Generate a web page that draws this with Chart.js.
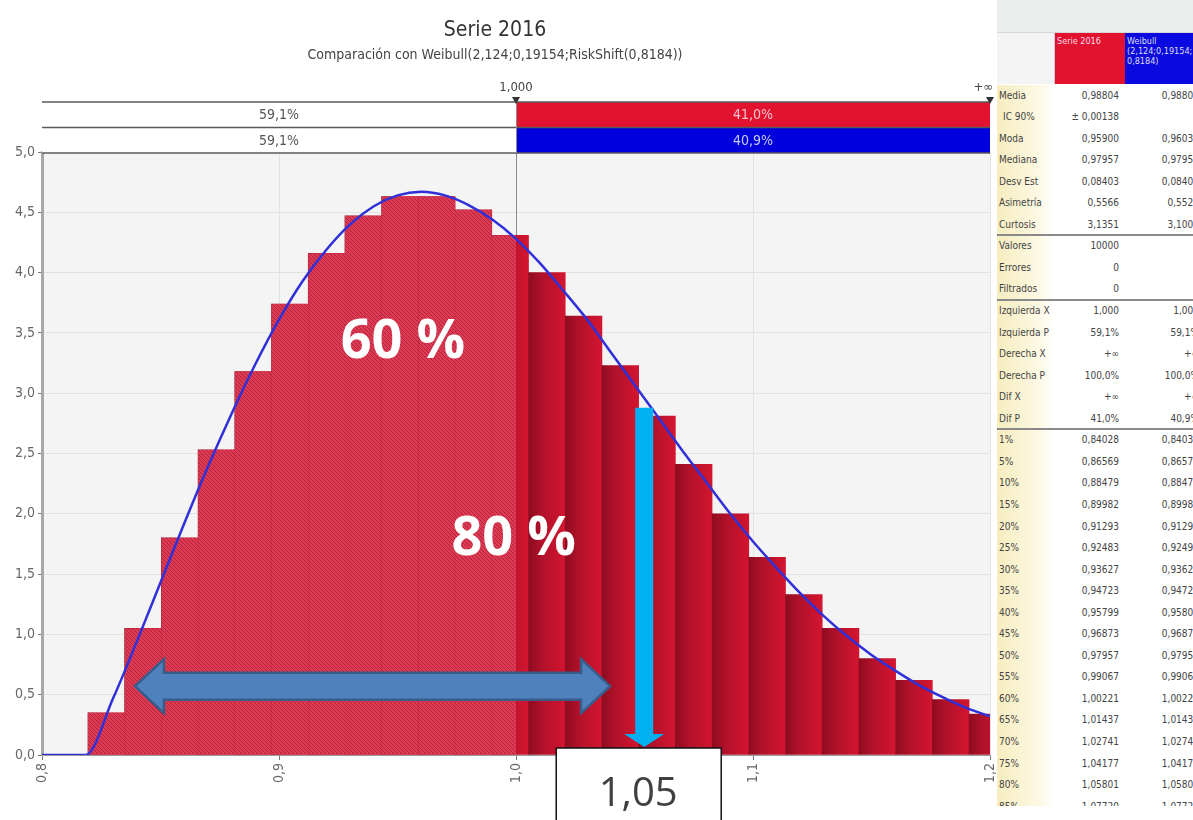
<!DOCTYPE html>
<html>
<head>
<meta charset="utf-8">
<script src="https://cdn.jsdelivr.net/npm/chart.js@4.4.0/dist/chart.umd.min.js"></script>
<style>
  body { margin: 0; background: #fff; width: 1193px; height: 820px; overflow: hidden; position: relative; }
  #wrap { position: absolute; left: 0; top: 0; width: 1032px; height: 820px; }
  #stats { position: absolute; left: 997px; top: 0; width: 196px; height: 806px; overflow: hidden; background: #fff;
           font-family: "Liberation Sans Narrow", "DejaVu Sans Condensed", "Liberation Sans", sans-serif; font-size: 10px; color: #444; }
  #stats .band { position: absolute; left: 0; top: 0; width: 196px; height: 32px; background: #eceeee; border-bottom: 1px solid #d6d6d6; }
  #stats .hcell { position: absolute; top: 33px; height: 51px; box-sizing: border-box; padding: 3px 2px; line-height: 10px; font-size: 9px; }
  #stats .lab { position: absolute; left: 0; width: 58px; height: 100%; background: linear-gradient(to right, #f6edc0, #fdf8e2 70%, #fff); }
  #stats .row { position: absolute; left: 0; width: 200px; height: 22px; line-height: 22px; white-space: nowrap; }
  #stats .row span { position: absolute; top: 0; }
  #stats .sep { position: absolute; left: 0; width: 200px; height: 0; border-top: 2px solid #8a8a8a; }
</style>
</head>
<body>
<div id="wrap"><canvas id="chart" width="1032" height="820"></canvas></div>
<div id="stats"></div>
<script>
// ---- histogram (Serie 2016) ----
const binLeft = [0.81940, 0.83489, 0.85038, 0.86587, 0.88136, 0.89685, 0.91234, 0.92783, 0.94332, 0.95881,
                 0.97430, 0.98979, 1.00528, 1.02077, 1.03626, 1.05175, 1.06724, 1.08273, 1.09822, 1.11371,
                 1.12920, 1.14469, 1.16018, 1.17567, 1.19116];
const binWidth = 0.01549;
const density = [0.35, 1.05, 1.80, 2.53, 3.18, 3.74, 4.16, 4.47, 4.63, 4.63,
                 4.52, 4.31, 4.00, 3.64, 3.23, 2.81, 2.41, 2.00, 1.64, 1.33,
                 1.05, 0.80, 0.62, 0.46, 0.34];

// ---- Weibull fit ----
const fitX = [0.80, 0.8184, 0.83, 0.84, 0.85, 0.86, 0.87, 0.88, 0.89, 0.90, 0.91, 0.92, 0.93, 0.94, 0.95, 0.96,
              0.97, 0.98, 0.99, 1.00, 1.01, 1.02, 1.03, 1.04, 1.05, 1.06, 1.07, 1.08, 1.09, 1.10, 1.11, 1.12,
              1.13, 1.14, 1.15, 1.16, 1.17, 1.18, 1.19, 1.20];
const fitY = [0, 0, 0.47, 0.94, 1.43, 1.92, 2.39, 2.83, 3.24, 3.61, 3.93, 4.19, 4.40, 4.55, 4.64, 4.67,
              4.64, 4.56, 4.44, 4.28, 4.08, 3.85, 3.61, 3.34, 3.07, 2.80, 2.53, 2.27, 2.01, 1.77, 1.55, 1.34,
              1.15, 0.98, 0.83, 0.70, 0.58, 0.48, 0.39, 0.32];

// ---- delimiters ----
const delimX = 1.0;
const leftProbs = ["59,1%", "59,1%"];
const rightProbs = ["41,0%", "40,9%"];
const rightColors = ["#e3122f", "#0000dc"];
const rightTextColors = ["#f6c4cd", "#c9c9ff"];

// ---- overlay notes ----
const noteTexts = [{ text: "60 %", x: 0.9523, y: 3.42 }, { text: "80 %", x: 0.999, y: 1.79 }];
const spanArrow = { from: 0.8392, to: 1.0397, y: 0.571 };
const cutArrow = { x: 1.0541, top: 2.88 };
const cutLabel = "1,05";

// ---- statistics table ----
const statLabels = ["Media", "IC 90%", "Moda", "Mediana", "Desv Est", "Asimetría", "Curtosis",
  "Valores", "Errores", "Filtrados",
  "Izquierda X", "Izquierda P", "Derecha X", "Derecha P", "Dif X", "Dif P",
  "1%", "5%", "10%", "15%", "20%", "25%", "30%", "35%", "40%", "45%", "50%", "55%", "60%", "65%", "70%", "75%", "80%", "85%"];
const serieStats = ["0,98804", "± 0,00138", "0,95900", "0,97957", "0,08403", "0,5566", "3,1351",
  "10000", "0", "0",
  "1,000", "59,1%", "+∞", "100,0%", "+∞", "41,0%",
  "0,84028", "0,86569", "0,88479", "0,89982", "0,91293", "0,92483", "0,93627", "0,94723", "0,95799", "0,96873",
  "0,97957", "0,99067", "1,00221", "1,01437", "1,02741", "1,04177", "1,05801", "1,07720"];
const weibullStats = ["0,98804", "", "0,96035", "0,97958", "0,08400", "0,5527", "3,1005",
  "", "", "",
  "1,000", "59,1%", "+∞", "100,0%", "+∞", "40,9%",
  "0,84036", "0,86571", "0,88479", "0,89982", "0,91293", "0,92494", "0,93629", "0,94724", "0,95801", "0,96874",
  "0,97958", "0,99069", "1,00222", "1,01438", "1,02743", "1,04178", "1,05804", "1,07720"];
const groupEnds = [6, 9, 15];

const NARROW = '"Liberation Sans Narrow", "DejaVu Sans Condensed", "Liberation Sans", sans-serif';
const fmt = (v) => v.toFixed(1).replace(".", ",");

// hatch for the part left of the delimiter
function makeHatch(ctx) {
  const c = document.createElement("canvas");
  c.width = 4; c.height = 4;
  const g = c.getContext("2d");
  g.fillStyle = "#de3a54";
  g.fillRect(0, 0, 4, 4);
  g.strokeStyle = "#ab2239";
  g.lineWidth = 0.9;
  g.beginPath();
  g.moveTo(-1, -1); g.lineTo(5, 5);
  g.moveTo(-1, 3); g.lineTo(1, 5);
  g.moveTo(3, -1); g.lineTo(5, 1);
  g.stroke();
  return ctx.createPattern(c, "repeat");
}

const plotBg = {
  id: "plotBg",
  beforeDraw(chart) {
    const { ctx, chartArea: a } = chart;
    ctx.save();
    ctx.fillStyle = "#f4f4f4";
    ctx.fillRect(a.left, a.top, a.right - a.left, a.bottom - a.top);
    ctx.restore();
  },
  beforeDatasetsDraw(chart) {
    const { ctx, chartArea: a } = chart;
    const xd = chart.scales.x.getPixelForValue(delimX);
    ctx.save();
    ctx.strokeStyle = "#8c8c8c";
    ctx.lineWidth = 1;
    ctx.beginPath();
    ctx.moveTo(xd + 0.5, a.top); ctx.lineTo(xd + 0.5, a.bottom);
    ctx.stroke();
    ctx.restore();
  }
};

let hatch = null;
const hatchLeft = {
  id: "hatchLeft",
  afterDatasetDraw(chart, args) {
    if (args.meta.type !== "bar") return;
    const { ctx, chartArea: a } = chart;
    const xd = chart.scales.x.getPixelForValue(delimX);
    if (!hatch) hatch = makeHatch(ctx);
    ctx.save();
    ctx.beginPath();
    ctx.rect(a.left, a.top, xd - a.left, a.bottom - a.top);
    ctx.clip();
    ctx.fillStyle = hatch;
    args.meta.data.forEach((el) => {
      const p = el.getProps(["x", "y", "base", "width"], true);
      ctx.fillRect(p.x - p.width / 2, p.y, p.width, p.base - p.y);
    });
    ctx.restore();
  }
};

const delimiterBars = {
  id: "delimiterBars",
  afterDraw(chart) {
    const { ctx, chartArea: a } = chart;
    const xd = chart.scales.x.getPixelForValue(delimX);
    const top = 102, h = 25.5;
    ctx.save();
    ctx.font = "14px " + NARROW;
    ctx.textAlign = "center";
    ctx.textBaseline = "middle";
    for (let r = 0; r < 2; r++) {
      const y = top + r * h;
      ctx.fillStyle = "#ffffff";
      ctx.fillRect(a.left, y, xd - a.left, h);
      ctx.fillStyle = rightColors[r];
      ctx.fillRect(xd, y, a.right - xd, h);
      ctx.fillStyle = "#555";
      ctx.fillText(leftProbs[r], (a.left + xd) / 2, y + h / 2 + 1);
      ctx.fillStyle = rightTextColors[r];
      ctx.fillText(rightProbs[r], (xd + a.right) / 2, y + h / 2 + 1);
    }
    ctx.strokeStyle = "#5a5a5a";
    ctx.lineWidth = 1.5;
    [top, top + h, top + 2 * h].forEach((y) => {
      ctx.beginPath(); ctx.moveTo(a.left, y); ctx.lineTo(a.right, y); ctx.stroke();
    });
    ctx.lineWidth = 1;
    ctx.strokeStyle = "#8c8c8c";
    ctx.beginPath(); ctx.moveTo(xd + 0.5, top); ctx.lineTo(xd + 0.5, top + 2 * h); ctx.stroke();
    // markers
    ctx.fillStyle = "#333";
    [xd, a.right].forEach((x) => {
      ctx.beginPath();
      ctx.moveTo(x - 4, top - 5); ctx.lineTo(x + 4, top - 5); ctx.lineTo(x, top + 2);
      ctx.closePath(); ctx.fill();
    });
    ctx.font = "13px " + NARROW;
    ctx.fillStyle = "#444";
    ctx.fillText("1,000", xd, 88);
    ctx.textAlign = "right";
    ctx.fillText("+∞", a.right + 3, 88);
    ctx.restore();
  }
};

const notes = {
  id: "notes",
  afterDraw(chart) {
    const { ctx } = chart;
    const xs = chart.scales.x, ys = chart.scales.y;
    ctx.save();
    // white percentages
    ctx.font = 'bold 54px "Open Sans", "DejaVu Sans", sans-serif';
    ctx.fillStyle = "#ffffff";
    ctx.textAlign = "center";
    ctx.textBaseline = "middle";
    noteTexts.forEach((n) => ctx.fillText(n.text, xs.getPixelForValue(n.x), ys.getPixelForValue(n.y)));

    // double arrow
    const x0 = xs.getPixelForValue(spanArrow.from), x1 = xs.getPixelForValue(spanArrow.to);
    const yc = ys.getPixelForValue(spanArrow.y);
    const sh = 13.5, hh = 27, hl = 29;
    ctx.beginPath();
    ctx.moveTo(x0, yc);
    ctx.lineTo(x0 + hl, yc - hh); ctx.lineTo(x0 + hl, yc - sh);
    ctx.lineTo(x1 - hl, yc - sh); ctx.lineTo(x1 - hl, yc - hh);
    ctx.lineTo(x1, yc);
    ctx.lineTo(x1 - hl, yc + hh); ctx.lineTo(x1 - hl, yc + sh);
    ctx.lineTo(x0 + hl, yc + sh); ctx.lineTo(x0 + hl, yc + hh);
    ctx.closePath();
    ctx.fillStyle = "#4f81bd";
    ctx.fill();
    ctx.strokeStyle = "#385d8a";
    ctx.lineWidth = 2.5;
    ctx.stroke();

    // cyan arrow down to the axis
    const cx = xs.getPixelForValue(cutArrow.x);
    const ct = ys.getPixelForValue(cutArrow.top);
    const cb = ys.getPixelForValue(0) - 8;
    ctx.beginPath();
    ctx.moveTo(cx - 9, ct); ctx.lineTo(cx + 9, ct);
    ctx.lineTo(cx + 9, cb - 13); ctx.lineTo(cx + 20, cb - 13);
    ctx.lineTo(cx, cb); ctx.lineTo(cx - 20, cb - 13);
    ctx.lineTo(cx - 9, cb - 13);
    ctx.closePath();
    ctx.fillStyle = "#00b0f0";
    ctx.fill();

    // value box
    const bx = cx - 88, by = ys.getPixelForValue(0) - 7;
    ctx.fillStyle = "#ffffff";
    ctx.fillRect(bx, by, 165, 90);
    ctx.strokeStyle = "#111";
    ctx.lineWidth = 1.5;
    ctx.strokeRect(bx, by, 165, 90);
    ctx.font = '40px "Open Sans", "DejaVu Sans", sans-serif';
    ctx.fillStyle = "#404040";
    ctx.fillText(cutLabel, bx + 82, by + 47);
    ctx.restore();
  }
};

const ctx = document.getElementById("chart");
new Chart(ctx, {
  data: {
    datasets: [
      {
        type: "line",
        data: fitX.map((x, i) => ({ x: x, y: fitY[i] })),
        borderColor: "#3030d8",
        borderWidth: 2.5,
        pointRadius: 0,
        cubicInterpolationMode: "monotone",
        order: 0,
      },
      {
        type: "bar",
        data: binLeft.map((l, i) => ({ x: l + binWidth / 2, y: density[i] })),
        barPercentage: 1,
        categoryPercentage: 1,
        grouped: false,
        borderWidth: 0,
        order: 1,
        backgroundColor: (c) => {
          const chart = c.chart;
          if (!chart.chartArea || c.dataIndex === undefined) return "#c0102c";
          const xs = chart.scales.x;
          const l = xs.getPixelForValue(binLeft[c.dataIndex]);
          const r = xs.getPixelForValue(binLeft[c.dataIndex] + binWidth);
          const g = chart.ctx.createLinearGradient(l, 0, r, 0);
          g.addColorStop(0, "#8e0c20");
          g.addColorStop(0.35, "#b0112a");
          g.addColorStop(1, "#d41530");
          return g;
        },
      },
    ],
  },
  options: {
    responsive: false,
    animation: false,
    devicePixelRatio: 1,
    layout: { padding: { left: 0, right: 42, top: 0, bottom: 0 } },
    plugins: {
      legend: { display: false },
      tooltip: { enabled: false },
      title: {
        display: true,
        text: "Serie 2016",
        color: "#333",
        font: { family: NARROW, size: 21, weight: "normal" },
        padding: { top: 18, bottom: 4 },
      },
      subtitle: {
        display: true,
        text: "Comparación con Weibull(2,124;0,19154;RiskShift(0,8184))",
        color: "#444",
        font: { family: NARROW, size: 14 },
        padding: { top: 0, bottom: 88 },
      },
    },
    scales: {
      x: {
        type: "linear",
        min: 0.8,
        max: 1.2,
        offset: false,
        afterFit: (s) => { s.height = 65; },
        ticks: {
          stepSize: 0.1,
          autoSkip: false,
          maxRotation: 90,
          minRotation: 90,
          color: "#666",
          font: { family: NARROW, size: 14 },
          callback: (v) => fmt(v),
        },
        grid: { offset: false, color: "#e2e2e2", tickColor: "#777", tickLength: 5 },
        border: { color: "#9a9a9a" },
      },
      y: {
        min: 0,
        max: 5,
        afterFit: (s) => { s.width = 42; },
        ticks: {
          stepSize: 0.5,
          color: "#666",
          font: { family: NARROW, size: 14 },
          callback: (v) => fmt(v),
        },
        grid: { color: "#e2e2e2", tickColor: "#777", tickLength: 4 },
        border: { color: "#a8a8a8", width: 3 },
      },
    },
  },
  plugins: [plotBg, hatchLeft, delimiterBars, notes],
});

// statistics panel
const stats = document.getElementById("stats");
const rowTop = 84.5, rowH = 21.55;
let html = '<div class="band"></div>';
html += '<div class="hcell" style="left:0;width:58px;background:#f4f4f4;border-right:1px solid #ccc"></div>';
html += '<div class="hcell" style="left:58px;width:70px;background:#e3122f;color:#fde;">Serie 2016</div>';
html += '<div class="hcell" style="left:128px;width:80px;background:#0a0ae0;color:#dde;">Weibull<br>(2,124;0,19154;<br>0,8184)</div>';
html += '<div class="lab" style="top:' + rowTop + 'px"></div>';
statLabels.forEach((lab, i) => {
  const y = rowTop + i * rowH;
  html += '<div class="row" style="top:' + y + 'px">' +
    '<span style="left:' + (i === 1 ? 6 : 2) + 'px">' + lab + '</span>' +
    '<span style="right:78px">' + serieStats[i] + '</span>' +
    '<span style="right:-2px">' + weibullStats[i] + '</span></div>';
});
groupEnds.forEach((i) => {
  html += '<div class="sep" style="top:' + (rowTop + (i + 1) * rowH - 1) + 'px"></div>';
});
stats.innerHTML = html;
</script>
</body>
</html>
